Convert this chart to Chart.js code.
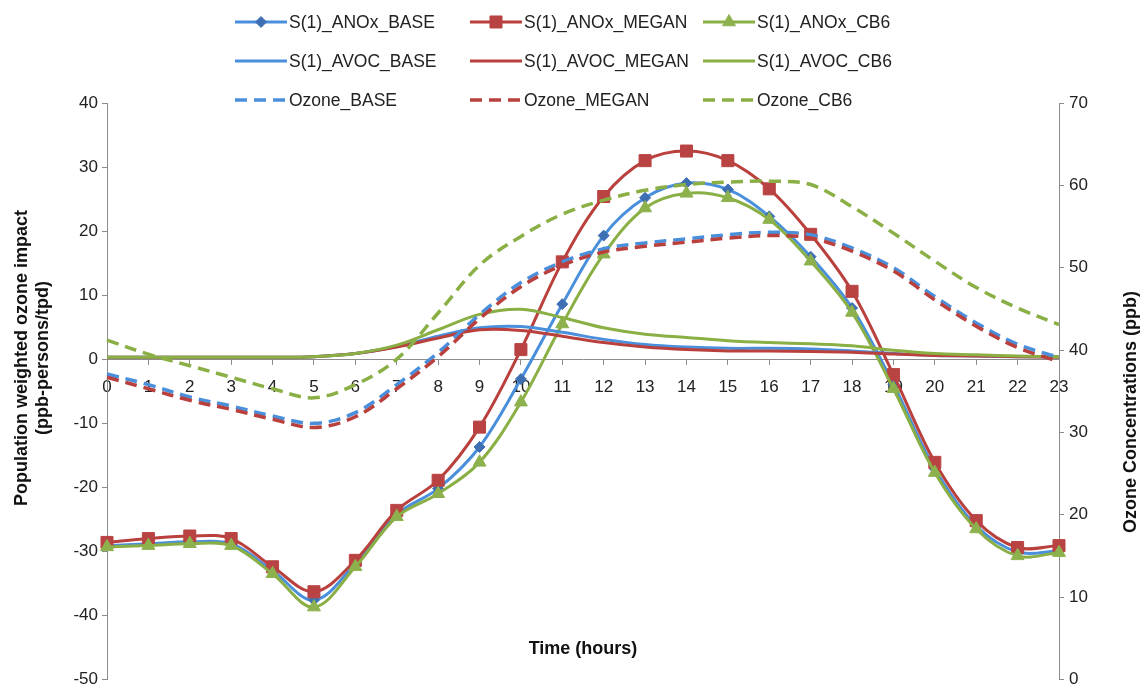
<!DOCTYPE html>
<html>
<head>
<meta charset="utf-8">
<script src="https://cdn.jsdelivr.net/npm/chart.js@4.4.1/dist/chart.umd.min.js"></script>
<style>
html, body { margin: 0; padding: 0; background: #fff; }
#wrap { width: 1144px; height: 689px; position: relative; }
</style>
</head>
<body>
<div id="wrap"><canvas id="ozoneChart"></canvas></div>
<script>
const hours = ['0', '1', '2', '3', '4', '5', '6', '7', '8', '9', '10', '11', '12', '13', '14', '15', '16', '17', '18', '19', '20', '21', '22', '23'];

// sensitivity to anthropogenic NOx (left axis)
const anoxBase = [-29.1, -28.8, -28.5, -28.8, -33.0, -37.6, -31.9, -24.2, -20.2, -13.7, -3.1, 8.6, 19.3, 25.2, 27.5, 26.5, 22.3, 16.0, 8.0, -3.9, -17.1, -26.0, -30.1, -29.9];
const anoxMegan = [-28.6, -28.0, -27.6, -28.0, -32.4, -36.3, -31.4, -23.6, -18.9, -10.6, 1.5, 15.2, 25.4, 31.0, 32.5, 31.0, 26.6, 19.5, 10.6, -2.4, -16.1, -25.2, -29.4, -29.1];
const anoxCb6 = [-29.3, -29.1, -28.8, -29.1, -33.5, -38.7, -32.4, -24.6, -21.0, -16.1, -6.7, 5.5, 16.4, 23.6, 25.9, 25.2, 21.8, 15.3, 7.3, -4.6, -17.7, -26.5, -30.7, -30.2];

// sensitivity to anthropogenic VOC (left axis)
const avocBase = [0.3, 0.3, 0.3, 0.3, 0.3, 0.4, 0.9, 2.0, 3.6, 4.9, 5.1, 4.2, 3.1, 2.3, 1.9, 1.7, 1.7, 1.6, 1.3, 0.9, 0.6, 0.5, 0.4, 0.4];
const avocMegan = [0.3, 0.3, 0.3, 0.3, 0.3, 0.4, 0.9, 1.9, 3.3, 4.6, 4.5, 3.6, 2.6, 1.9, 1.5, 1.3, 1.3, 1.2, 1.1, 0.8, 0.6, 0.5, 0.4, 0.3];
const avocCb6 = [0.3, 0.3, 0.3, 0.3, 0.3, 0.4, 0.9, 2.2, 4.6, 7.0, 7.8, 6.5, 4.9, 3.9, 3.4, 2.9, 2.6, 2.4, 2.1, 1.4, 0.9, 0.7, 0.5, 0.4];

// ozone concentrations (right axis, ppb)
const ozoneBase = [37.1, 35.8, 34.3, 33.2, 32.0, 31.1, 32.4, 35.8, 39.7, 44.3, 48.2, 50.7, 52.3, 53.0, 53.5, 54.0, 54.3, 54.0, 52.4, 50.0, 46.5, 43.3, 40.7, 39.1];
const ozoneMegan = [36.7, 35.3, 33.9, 32.8, 31.6, 30.6, 31.9, 35.3, 39.2, 43.8, 47.7, 50.3, 51.9, 52.6, 53.1, 53.6, 53.9, 53.6, 52.0, 49.6, 46.1, 42.9, 40.3, 38.6];
const ozoneCb6 = [41.2, 39.5, 38.1, 36.7, 35.3, 34.2, 35.8, 38.9, 44.5, 50.3, 53.8, 56.5, 58.2, 59.4, 60.1, 60.4, 60.5, 60.1, 57.4, 54.2, 50.8, 47.6, 45.1, 43.1];

const leftTicks = { min: -50, max: 40, step: 10 };
const rightTicks = { min: 0, max: 70, step: 10 };

const blue = '#4a8fdb', blueMark = '#3e6fb3';
const red = '#b9403d', redMark = '#b94343';
const green = '#8aaf45', greenMark = '#8db24d';
const axisColor = '#8c8c8c';
const textColor = '#222';
const fontFamily = "'Liberation Sans', Arial, sans-serif";

function series(label, data, color, axis, extra) {
    return Object.assign({
        label: label,
        data: data,
        yAxisID: axis,
        borderColor: color,
        backgroundColor: color,
        borderWidth: 3,
        pointRadius: 0,
        pointHoverRadius: 0,
        tension: 0.35,
        fill: false,
        clip: false
    }, extra || {});
}

const datasets = [
    series('S(1)_ANOx_BASE', anoxBase, blue, 'y', { pointStyle: 'rectRot', pointRadius: 5.5, pointBackgroundColor: blueMark, pointBorderColor: blueMark, pointBorderWidth: 1, order: 8 }),
    series('S(1)_ANOx_MEGAN', anoxMegan, red, 'y', { pointStyle: 'rect', pointRadius: 8.5, pointBackgroundColor: redMark, pointBorderColor: redMark, pointBorderWidth: 1, order: 7 }),
    series('S(1)_ANOx_CB6', anoxCb6, green, 'y', { pointStyle: 'triangle', pointRadius: 7.5, pointBackgroundColor: greenMark, pointBorderColor: greenMark, pointBorderWidth: 1, order: 6 }),
    series('S(1)_AVOC_BASE', avocBase, blue, 'y', { order: 5 }),
    series('S(1)_AVOC_MEGAN', avocMegan, red, 'y', { order: 4 }),
    series('S(1)_AVOC_CB6', avocCb6, green, 'y', { order: 3 }),
    series('Ozone_BASE', ozoneBase, blue, 'y1', { borderDash: [12, 7], borderWidth: 3.5, order: 2 }),
    series('Ozone_MEGAN', ozoneMegan, red, 'y1', { borderDash: [12, 7], borderWidth: 3.5, order: 1 }),
    series('Ozone_CB6', ozoneCb6, green, 'y1', { borderDash: [12, 7], borderWidth: 3.5, order: 0 })
];

// legend grid + axis titles drawn on the canvas
const legendCols = [235, 470, 703];
const legendRows = [22, 61, 100];

const decor = {
    id: 'decor',
    afterDraw(chart) {
        const ctx = chart.ctx;
        const area = chart.chartArea;
        ctx.save();
        chart.data.datasets.forEach((ds, i) => {
            const x = legendCols[i % 3];
            const y = legendRows[Math.floor(i / 3)];
            ctx.strokeStyle = ds.borderColor;
            ctx.lineWidth = ds.borderWidth;
            ctx.setLineDash(ds.borderDash || []);
            ctx.beginPath();
            ctx.moveTo(x, y);
            ctx.lineTo(x + 52, y);
            ctx.stroke();
            ctx.setLineDash([]);
            if (ds.pointRadius > 0) {
                ctx.fillStyle = ds.pointBackgroundColor;
                ctx.strokeStyle = ds.pointBorderColor;
                ctx.lineWidth = 1;
                Chart.helpers.drawPoint(ctx, { pointStyle: ds.pointStyle, radius: ds.pointRadius, borderWidth: 1, rotation: 0 }, x + 26, y);
            }
            ctx.fillStyle = textColor;
            ctx.font = '17.5px ' + fontFamily;
            ctx.textAlign = 'left';
            ctx.textBaseline = 'middle';
            ctx.fillText(ds.label, x + 54, y + 1);
        });

        ctx.fillStyle = '#111';
        ctx.font = 'bold 18px ' + fontFamily;
        ctx.textAlign = 'center';
        ctx.textBaseline = 'middle';

        ctx.save();
        ctx.translate(22, 358);
        ctx.rotate(-Math.PI / 2);
        ctx.fillText('Population weighted ozone impact', 0, 0);
        ctx.fillText('(ppb-persons/tpd)', 0, 21);
        ctx.restore();

        ctx.save();
        ctx.translate(1131, 412);
        ctx.rotate(-Math.PI / 2);
        ctx.fillText('Ozone Concentrations (ppb)', 0, 0);
        ctx.restore();

        ctx.fillText('Time (hours)', (area.left + area.right) / 2, area.bottom - 30);
        ctx.restore();
    }
};

const tickFont = { family: fontFamily, size: 17 };

function fitVertical(width) {
    return function (scale) {
        scale.width = width;
        scale.paddingTop = 0;
        scale.paddingBottom = 8;
    };
}

new Chart(document.getElementById('ozoneChart').getContext('2d'), {
    type: 'line',
    data: { labels: hours, datasets: datasets },
    options: {
        responsive: true,
        maintainAspectRatio: false,
        animation: false,
        devicePixelRatio: 1,
        layout: { padding: { top: 103, bottom: 0, left: 0, right: 0 } },
        plugins: { legend: { display: false }, tooltip: { enabled: false } },
        scales: {
            x: {
                type: 'category',
                position: { y: 0 },
                offset: false,
                grid: { display: true, drawOnChartArea: false, drawTicks: true, tickLength: 5, color: axisColor },
                border: { display: true, color: axisColor, width: 1 },
                ticks: { font: tickFont, color: textColor, padding: 13, maxRotation: 0, autoSkip: false }
            },
            y: {
                position: 'left',
                min: leftTicks.min,
                max: leftTicks.max,
                grid: { display: true, drawOnChartArea: false, drawTicks: true, tickLength: 5, color: axisColor },
                border: { display: true, color: axisColor, width: 1 },
                ticks: { stepSize: leftTicks.step, font: tickFont, color: textColor, padding: 4 },
                afterFit: fitVertical(107)
            },
            y1: {
                position: 'right',
                min: rightTicks.min,
                max: rightTicks.max,
                grid: { display: true, drawOnChartArea: false, drawTicks: true, tickLength: 5, color: axisColor },
                border: { display: true, color: axisColor, width: 1 },
                ticks: { stepSize: rightTicks.step, font: tickFont, color: textColor, padding: 5 },
                afterFit: fitVertical(85)
            }
        }
    },
    plugins: [decor]
});
</script>
</body>
</html>
